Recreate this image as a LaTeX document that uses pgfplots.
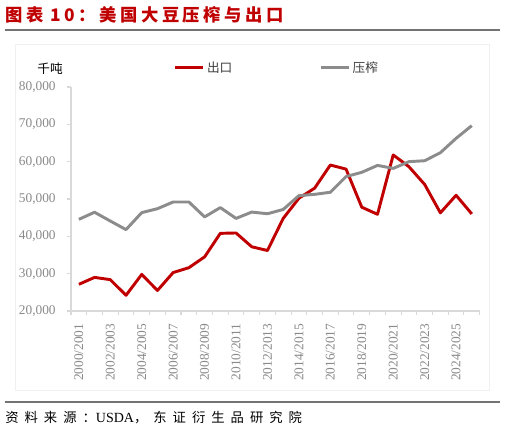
\documentclass[border=0pt]{standalone}
\usepackage{pgfplots}
\pgfplotsset{compat=1.18}
\usepackage{fontspec}
\setmainfont{Liberation Serif}
\newfontfamily\cjk{Noto Sans CJK SC}
\newfontfamily\cjkt[LetterSpace=20]{Noto Sans CJK SC}
\newfontfamily\cjks[LetterSpace=45]{Noto Sans CJK SC}
\definecolor{myred}{HTML}{C00000}
\definecolor{mygray}{HTML}{8C8C8C}
\definecolor{ticktext}{HTML}{8A8A8A}
\definecolor{axgray}{HTML}{D9D9D9}
\pgfplotstableread{
x exp crush
0 27150 44550
1 29000 46450
2 28400 44100
3 24200 41800
4 29800 46350
5 25500 47400
6 30300 49200
7 31600 49200
8 34500 45200
9 40800 47700
10 40900 44800
11 37200 46500
12 36200 46050
13 44800 47200
14 50200 50900
15 52900 51250
16 59100 51800
17 58000 56000
18 47800 57150
19 45900 59000
20 61800 58200
21 58650 60000
22 53900 60250
23 46300 62400
24 51000 66250
25 46000 69650
}\datatable
\begin{document}
\begin{tikzpicture}[x=0.75pt,y=0.75pt]
\useasboundingbox (0,0) rectangle (506,432);
\fill[white] (0,0) rectangle (506,432);
\draw[color=black!6] (15,388) rectangle (489,42);
\node[anchor=base west, text=myred, font=\cjkt\bfseries\fontsize{13pt}{15pt}\selectfont, inner sep=0] at (5,410) {图表 10：美国大豆压榨与出口};
\draw[color=black!55, line width=1.4pt] (5,402) -- (500,402);
\draw[color=black!55, line width=1.4pt] (5,30) -- (500,30);
\node[anchor=west, inner sep=0, font=\cjks\fontsize{10pt}{12pt}\selectfont] at (5,14) {资料来源：{\fontspec{Liberation Serif}\fontsize{10.5pt}{12pt}\selectfont USDA}，东证衍生品研究院};
\node[inner sep=0, font=\cjk\fontsize{9.5pt}{11pt}\selectfont] at (50,363) {千吨};
\begin{axis}[
  at={(53.25pt,90.75pt)}, anchor=south west, scale only axis,
  width=306.5pt, height=168pt,
  xmin=-0.5, xmax=25.5, ymin=20000, ymax=80000,
  axis x line*=bottom, axis y line*=left,
  axis line style={color=axgray, line width=0.8pt},
  every tick/.style={color=axgray, line width=0.8pt},
  tick align=outside,
  xtick={0,2,...,24},
  xticklabels={2000/2001,2002/2003,2004/2005,2006/2007,2008/2009,2010/2011,2012/2013,2014/2015,2016/2017,2018/2019,2020/2021,2022/2023,2024/2025},
  minor xtick={-0.5,0.5,...,25.5},
  major x tick style={draw=none},
  minor tick length=3pt, major tick length=3pt,
  xticklabel shift=3pt, yticklabel shift=5pt,
  xticklabel style={rotate=90, anchor=east, text=ticktext, font=\fontsize{10pt}{11pt}\selectfont},
  ytick={20000,30000,...,80000},
  yticklabel style={text=ticktext, font=\fontsize{10pt}{11pt}\selectfont, /pgf/number format/.cd, fixed, 1000 sep={,}, assume math mode=true},
  scaled y ticks=false,
  clip=false,
  legend columns=2,
  legend style={draw=none, fill=none, at={(0.25,1.085)}, anchor=west, inner sep=0pt,
    font=\cjk\fontsize{9.5pt}{11pt}\selectfont, text=black!75,
    /tikz/every even column/.append style={column sep=63pt}},
  legend image code/.code={\draw[#1] (0pt,0pt) -- (21pt,0pt);},
  legend cell align=left,
]
\addplot[color=myred, line width=2.2pt, line join=round] table[x=x, y=exp] {\datatable};
\addlegendentry{出口}
\addplot[color=mygray, line width=2.2pt, line join=round] table[x=x, y=crush] {\datatable};
\addlegendentry{压榨}
\end{axis}
\end{tikzpicture}
\end{document}
